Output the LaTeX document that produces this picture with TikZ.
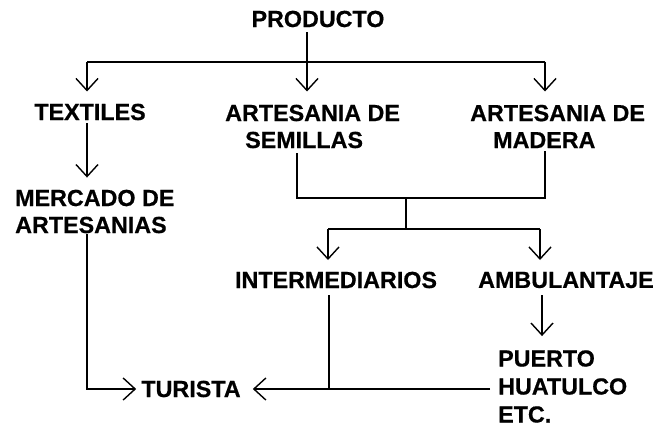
\documentclass[tikz,border=0pt]{standalone}
\usepackage{fontspec}
\setmainfont{Liberation Sans}[BoldFeatures={FakeBold=0.6}]
\usetikzlibrary{arrows.meta,positioning}

\begin{document}
\begin{tikzpicture}[x=1pt,y=-1pt,
        lbl/.style={font=\bfseries\fontsize{23.3}{27}\selectfont, align=left,
                    inner sep=0pt},
        ln/.style={line width=2pt},
        arr/.style={ln, -{Straight Barb[length=12pt,width=22pt,line width=1.4pt]}}
      ]
        \useasboundingbox (0,0) rectangle (660,428);
        \node[lbl] (producto) at (318,19)  {PRODUCTO};
        \node[lbl] (textiles) at (90,112)  {TEXTILES};
        \node[lbl, anchor=west] (semillas) at (225,126.5) {ARTESANIA DE\\\hspace*{20pt}SEMILLAS};
        \node[lbl, anchor=west] (madera)   at (470,126.5) {ARTESANIA DE\\\hspace*{23pt}MADERA};
        \node[lbl, anchor=west] (mercado)  at (15,211.5)  {MERCADO DE\\ARTESANIAS};
        \node[lbl] (interm)   at (336,280) {INTERMEDIARIOS};
        \node[lbl] (ambul)    at (566,280) {AMBULANTAJE};
        \node[lbl, anchor=west] (puerto) at (498,386.5) {PUERTO\\[1pt]HUATULCO\\[1pt]ETC.};
        \node[lbl] (turista)  at (191,389) {TURISTA};
        % columns and junctions
        \coordinate (colT)  at (87,0);
        \coordinate (colS)  at (307,0);
        \coordinate (colSb) at (297,0);
        \coordinate (colM)  at (545,0);
        \coordinate (colI)  at (329,0);
        \coordinate (colA)  at (542,0);
        \coordinate (split) at (307,61.5);
        \coordinate (tipA)  at (0,91.5);
        \coordinate (join)  at (406,198);
        \coordinate (fork)  at (406,229);
        \coordinate (forkL) at (328,229);
        \coordinate (forkR) at (540,229);
        \coordinate (tipB)  at (0,260);
        % producto to the three products
        \draw[ln] (colT |- split) -- (colM |- split);
        \draw[arr] ([yshift=-5pt]colS |- producto.south) -- (colS |- tipA);
        \draw[arr] (colT |- split) -- (colT |- tipA);
        \draw[arr] (colM |- split) -- (colM |- tipA);
        \draw[arr] ([yshift=-3pt]colT |- textiles.south) -- ([yshift=12pt]colT |- mercado.north);
        % artesanias to the sellers
        \draw[ln] ([yshift=-5pt]colSb |- semillas.south) |- (join) -| ([yshift=-3pt]colM |- madera.south);
        \draw[ln] (join) -- (fork);
        \draw[ln] (forkL) -- (forkR);
        \draw[arr] (forkL) -- (forkL |- tipB);
        \draw[arr] (forkR) -- (forkR |- tipB);
        \draw[arr] ([yshift=-7pt]colA |- ambul.south) -- ([yshift=14pt]colA |- puerto.north);
        % to the tourist
        \draw[arr, shorten >=5pt] ([yshift=-1pt]colT |- mercado.south) |- (turista.west);
        \draw[arr, shorten >=12pt] ([xshift=-8pt]puerto.west |- turista.east) -- (turista.east);
        \draw[ln] ([yshift=-7pt]colI |- interm.south) -- (colI |- turista.east);
      \end{tikzpicture}
\end{document}
